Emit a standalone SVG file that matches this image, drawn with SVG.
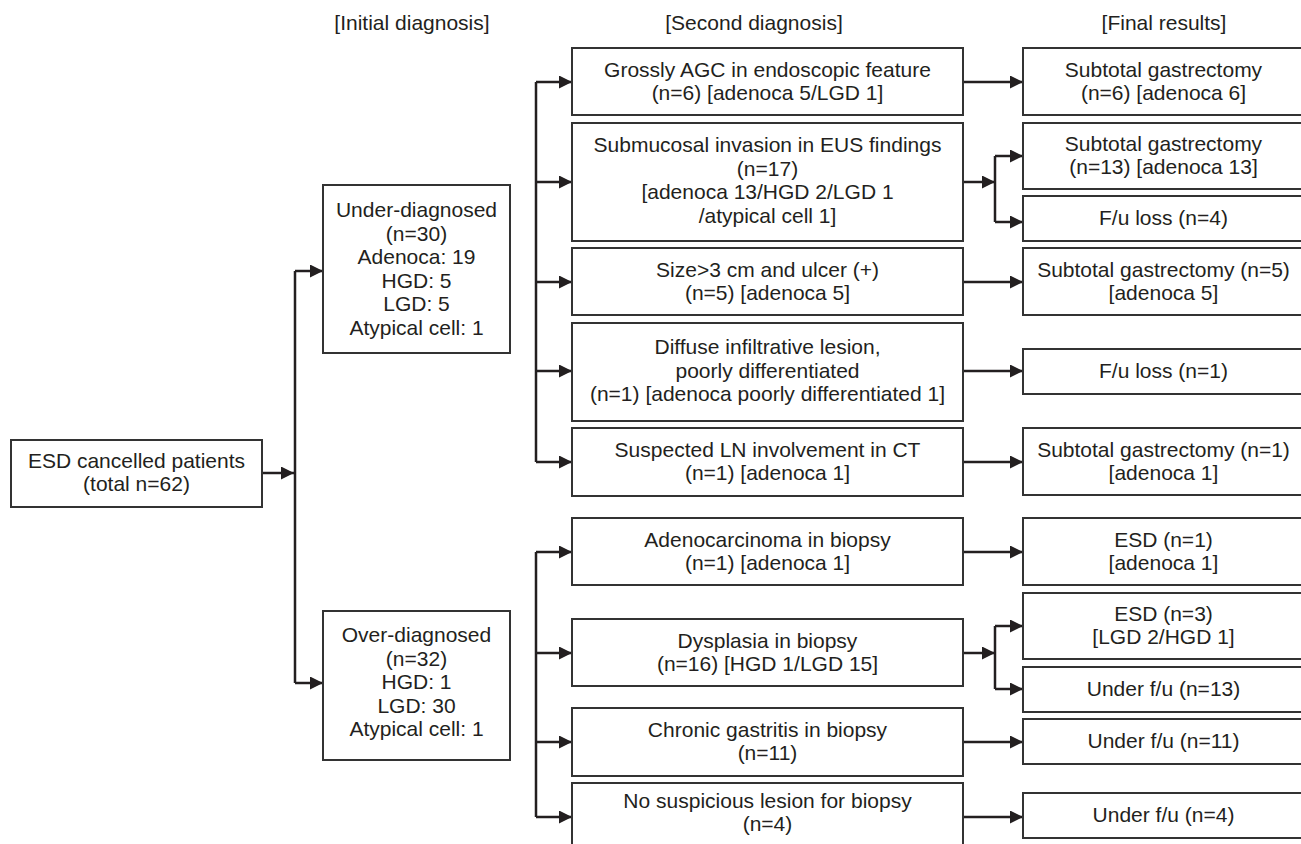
<svg xmlns="http://www.w3.org/2000/svg" width="1301" height="844" viewBox="0 0 1301 844">
<defs>
<marker id="ah" markerUnits="userSpaceOnUse" markerWidth="13" markerHeight="13" refX="13" refY="6.5" orient="auto">
<path d="M0,0 L13,6.5 L0,13 z" fill="#231f20"/>
</marker>
<style>
text{font-family:"Liberation Sans",Arial,sans-serif;font-size:21px;fill:#231f20;text-anchor:middle}
.box{fill:#fff;stroke:#333;stroke-width:2}
.ln{fill:none;stroke:#231f20;stroke-width:2.5}
.ar{fill:none;stroke:#231f20;stroke-width:2.5;marker-end:url(#ah)}
</style>
</defs>
<rect width="1301" height="844" fill="#fff"/>
<g id="headings">
<text x="412" y="30">[Initial diagnosis]</text>
<text x="754" y="30">[Second diagnosis]</text>
<text x="1164" y="30">[Final results]</text>
</g>
<g id="connectors">
<path class="ar" d="M262,473 H294"/>
<path class="ln" d="M295,271 V683"/>
<path class="ar" d="M295,271 H323"/>
<path class="ar" d="M295,683 H323"/>
<path class="ln" d="M536,82 V462"/>
<path class="ar" d="M536,82 H572"/>
<path class="ar" d="M536,182 H572"/>
<path class="ar" d="M536,282 H572"/>
<path class="ar" d="M536,371 H572"/>
<path class="ar" d="M536,462 H572"/>
<path class="ln" d="M536,552 V817"/>
<path class="ar" d="M536,552 H572"/>
<path class="ar" d="M536,653 H572"/>
<path class="ar" d="M536,742 H572"/>
<path class="ar" d="M536,817 H572"/>
<path class="ar" d="M963,82 H1023"/>
<path class="ar" d="M963,182 H995"/>
<path class="ln" d="M995,156 V222"/>
<path class="ar" d="M995,156 H1023"/>
<path class="ar" d="M995,222 H1023"/>
<path class="ar" d="M963,282 H1023"/>
<path class="ar" d="M963,371 H1023"/>
<path class="ar" d="M963,462 H1023"/>
<path class="ar" d="M963,552 H1023"/>
<path class="ar" d="M963,653 H995"/>
<path class="ln" d="M995,626 V689"/>
<path class="ar" d="M995,626 H1023"/>
<path class="ar" d="M995,689 H1023"/>
<path class="ar" d="M963,742 H1023"/>
<path class="ar" d="M963,817 H1023"/>
</g>
<g id="n-esd"><rect class="box" x="11" y="440" width="251" height="67"/>
<text x="136.5" y="468">ESD cancelled patients</text><text x="136.5" y="491">(total n=62)</text></g>
<g id="n-under"><rect class="box" x="323" y="185" width="187" height="168"/>
<text x="416.5" y="217">Under-diagnosed</text><text x="416.5" y="240.5">(n=30)</text><text x="416.5" y="264">Adenoca: 19</text><text x="416.5" y="287.5">HGD: 5</text><text x="416.5" y="311">LGD: 5</text><text x="416.5" y="334.5">Atypical cell: 1</text></g>
<g id="n-over"><rect class="box" x="323" y="611" width="187" height="149"/>
<text x="416.5" y="642">Over-diagnosed</text><text x="416.5" y="665.5">(n=32)</text><text x="416.5" y="689">HGD: 1</text><text x="416.5" y="712.5">LGD: 30</text><text x="416.5" y="736">Atypical cell: 1</text></g>
<g id="s-agc"><rect class="box" x="572" y="48" width="391" height="67"/>
<text x="767.5" y="77">Grossly AGC in endoscopic feature</text><text x="767.5" y="100">(n=6) [adenoca 5/LGD 1]</text></g>
<g id="s-sm"><rect class="box" x="572" y="123" width="391" height="118"/>
<text x="767.5" y="152">Submucosal invasion in EUS findings</text><text x="767.5" y="175.5">(n=17)</text><text x="767.5" y="199">[adenoca 13/HGD 2/LGD 1</text><text x="767.5" y="222.5">/atypical cell 1]</text></g>
<g id="s-size"><rect class="box" x="572" y="248" width="391" height="67"/>
<text x="767.5" y="277">Size&gt;3 cm and ulcer (+)</text><text x="767.5" y="300">(n=5) [adenoca 5]</text></g>
<g id="s-diffuse"><rect class="box" x="572" y="323" width="391" height="98"/>
<text x="767.5" y="354">Diffuse infiltrative lesion,</text><text x="767.5" y="377.5">poorly differentiated</text><text x="767.5" y="401">(n=1) [adenoca poorly differentiated 1]</text></g>
<g id="s-ln"><rect class="box" x="572" y="428" width="391" height="68"/>
<text x="767.5" y="457">Suspected LN involvement in CT</text><text x="767.5" y="480">(n=1) [adenoca 1]</text></g>
<g id="s-adeno"><rect class="box" x="572" y="518" width="391" height="67"/>
<text x="767.5" y="547">Adenocarcinoma in biopsy</text><text x="767.5" y="570">(n=1) [adenoca 1]</text></g>
<g id="s-dys"><rect class="box" x="572" y="619" width="391" height="67"/>
<text x="767.5" y="648">Dysplasia in biopsy</text><text x="767.5" y="671">(n=16) [HGD 1/LGD 15]</text></g>
<g id="s-chronic"><rect class="box" x="572" y="708" width="391" height="68"/>
<text x="767.5" y="737">Chronic gastritis in biopsy</text><text x="767.5" y="760">(n=11)</text></g>
<g id="s-none"><rect class="box" x="572" y="783" width="391" height="67"/>
<text x="767.5" y="808">No suspicious lesion for biopsy</text><text x="767.5" y="831">(n=4)</text></g>
<g id="f-sg6"><rect class="box" x="1023" y="48" width="281" height="67"/>
<text x="1163.5" y="77">Subtotal gastrectomy</text><text x="1163.5" y="100">(n=6) [adenoca 6]</text></g>
<g id="f-sg13"><rect class="box" x="1023" y="123" width="281" height="66"/>
<text x="1163.5" y="151">Subtotal gastrectomy</text><text x="1163.5" y="174">(n=13) [adenoca 13]</text></g>
<g id="f-fu4"><rect class="box" x="1023" y="196" width="281" height="45"/>
<text x="1163.5" y="225">F/u loss (n=4)</text></g>
<g id="f-sg5"><rect class="box" x="1023" y="248" width="281" height="67"/>
<text x="1163.5" y="277">Subtotal gastrectomy (n=5)</text><text x="1163.5" y="300">[adenoca 5]</text></g>
<g id="f-fu1"><rect class="box" x="1023" y="349" width="281" height="45"/>
<text x="1163.5" y="378">F/u loss (n=1)</text></g>
<g id="f-sg1"><rect class="box" x="1023" y="428" width="281" height="67"/>
<text x="1163.5" y="457">Subtotal gastrectomy (n=1)</text><text x="1163.5" y="480">[adenoca 1]</text></g>
<g id="f-esd1"><rect class="box" x="1023" y="518" width="281" height="67"/>
<text x="1163.5" y="547">ESD (n=1)</text><text x="1163.5" y="570">[adenoca 1]</text></g>
<g id="f-esd3"><rect class="box" x="1023" y="593" width="281" height="66"/>
<text x="1163.5" y="621">ESD (n=3)</text><text x="1163.5" y="644">[LGD 2/HGD 1]</text></g>
<g id="f-uf13"><rect class="box" x="1023" y="667" width="281" height="45"/>
<text x="1163.5" y="696">Under f/u (n=13)</text></g>
<g id="f-uf11"><rect class="box" x="1023" y="719" width="281" height="45"/>
<text x="1163.5" y="748">Under f/u (n=11)</text></g>
<g id="f-uf4"><rect class="box" x="1023" y="793" width="281" height="45"/>
<text x="1163.5" y="822">Under f/u (n=4)</text></g>
</svg>
